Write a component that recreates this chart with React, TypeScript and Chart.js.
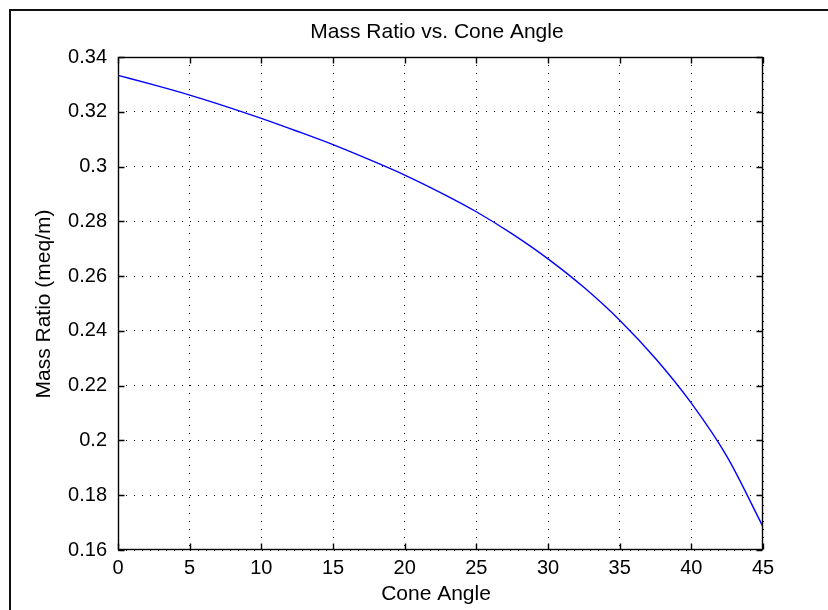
import React, { useEffect, useRef } from "react";
import { Chart, registerables } from "chart.js";

Chart.register(...registerables);

// ---- data ----
const coneAngles = [0, 2.5, 5, 7.5, 10, 12.5, 15, 17.5, 20, 22.5, 25, 27.5, 30, 32.5, 35, 37.5, 40, 42.5, 45];
const massRatios = [
  0.3333, 0.3298, 0.3261, 0.322, 0.3176, 0.3129, 0.308, 0.3026, 0.2969, 0.2905,
  0.2835, 0.2754, 0.2663, 0.2559, 0.2439, 0.2299, 0.2136, 0.194, 0.1685,
];
const xTickValues = [0, 5, 10, 15, 20, 25, 30, 35, 40, 45];
const yTickValues = [0.16, 0.18, 0.2, 0.22, 0.24, 0.26, 0.28, 0.3, 0.32, 0.34];
const xTickLabels = ["0", "5", "10", "15", "20", "25", "30", "35", "40", "45"];
const yTickLabels = ["0.16", "0.18", "0.2", "0.22", "0.24", "0.26", "0.28", "0.3", "0.32", "0.34"];
const chartTitle = "Mass Ratio vs. Cone Angle";
const xAxisTitle = "Cone Angle";
const yAxisTitle = "Mass Ratio (meq/m)";

const FONT = '"Liberation Sans", Arial, Helvetica, sans-serif';

const matlabPlugin = {
  id: "matlabDecor",
  beforeDraw(chart: any) {
    const ctx = chart.ctx;
    ctx.save();
    ctx.fillStyle = "#ffffff";
    ctx.fillRect(0, 0, chart.width, chart.height);
    ctx.fillStyle = "#111111";
    ctx.fillRect(9, 9, 2, chart.height - 9);
    ctx.fillRect(9, 9, chart.width - 9, 2);
    ctx.restore();
  },
  afterDraw(chart: any) {
    const ctx = chart.ctx;
    const { left, top, right, bottom } = chart.chartArea;
    const xs = chart.scales.x;
    const ys = chart.scales.y;
    const L = Math.round(left) + 0.5;
    const R = Math.round(right) - 0.5;
    const T = Math.round(top) + 0.5;
    const B = Math.round(bottom) - 0.5;
    ctx.save();
    ctx.strokeStyle = "#000000";
    ctx.lineWidth = 1.4;
    ctx.strokeRect(L, T, R - L, B - T);
    // inward tick marks
    const tl = 6;
    ctx.beginPath();
    xTickValues.forEach((v) => {
      const px = Math.round(xs.getPixelForValue(v)) + 0.5;
      ctx.moveTo(px, B);
      ctx.lineTo(px, B - tl);
      ctx.moveTo(px, T);
      ctx.lineTo(px, T + tl);
    });
    yTickValues.forEach((v) => {
      const py = Math.round(ys.getPixelForValue(v)) + 0.5;
      ctx.moveTo(L, py);
      ctx.lineTo(L + tl, py);
      ctx.moveTo(R, py);
      ctx.lineTo(R - tl, py);
    });
    ctx.stroke();

    // titles
    ctx.fillStyle = "#000000";
    ctx.font = `21px ${FONT}`;
    ctx.textAlign = "center";
    ctx.textBaseline = "alphabetic";
    ctx.fillText(chartTitle, 437, 38);
    ctx.fillText(xAxisTitle, 436, 600);
    ctx.translate(50, 304);
    ctx.rotate(-Math.PI / 2);
    ctx.fillText(yAxisTitle, 0, 0);
    ctx.restore();
  },
};

export default function App() {
  const canvasRef = useRef<HTMLCanvasElement | null>(null);

  useEffect(() => {
    if (!canvasRef.current) return;
    const chart = new Chart(canvasRef.current, {
      type: "line",
      data: {
        datasets: [
          {
            label: "Mass Ratio",
            data: coneAngles.map((a, i) => ({ x: a, y: massRatios[i] })),
            borderColor: "#0000ff",
            borderWidth: 1.4,
            pointRadius: 0,
            fill: false,
            cubicInterpolationMode: "monotone",
          },
        ],
      },
      options: {
        responsive: false,
        animation: false,
        devicePixelRatio: 1,
        layout: { padding: { left: 0, top: 57, right: 65, bottom: 0 } },
        plugins: {
          legend: { display: false },
          title: { display: false },
          tooltip: { enabled: false },
        },
        scales: {
          x: {
            type: "linear",
            min: 0,
            max: 45,
            afterBuildTicks: (scale: any) => {
              scale.ticks = xTickValues.map((v) => ({ value: v }));
            },
            afterFit: (scale: any) => {
              scale.height = 60;
            },
            ticks: {
              color: "#000000",
              font: { family: FONT, size: 20 },
              padding: 6,
              maxRotation: 0,
              autoSkip: false,
              callback: (v: any) => {
                const i = xTickValues.indexOf(Number(v));
                return i >= 0 ? xTickLabels[i] : "";
              },
            },
            grid: { color: "#000000", lineWidth: 1, drawTicks: false },
            border: { display: false, dash: [1, 7] },
          },
          y: {
            type: "linear",
            min: 0.16,
            max: 0.34,
            afterBuildTicks: (scale: any) => {
              scale.ticks = yTickValues.map((v) => ({ value: v }));
            },
            afterFit: (scale: any) => {
              scale.width = 118;
            },
            ticks: {
              color: "#000000",
              font: { family: FONT, size: 20 },
              padding: 11,
              autoSkip: false,
              callback: (v: any) => {
                const i = yTickValues.findIndex((t) => Math.abs(t - Number(v)) < 1e-9);
                return i >= 0 ? yTickLabels[i] : "";
              },
            },
            grid: { color: "#000000", lineWidth: 1, drawTicks: false },
            border: { display: false, dash: [1, 7] },
          },
        },
      } as any,
      plugins: [matlabPlugin],
    });
    return () => chart.destroy();
  }, []);

  return (
    <div style={{ position: "fixed", left: 0, top: 0, width: 828, height: 610, background: "#fff" }}>
      <canvas ref={canvasRef} width={828} height={610} style={{ display: "block" }} />
    </div>
  );
}
